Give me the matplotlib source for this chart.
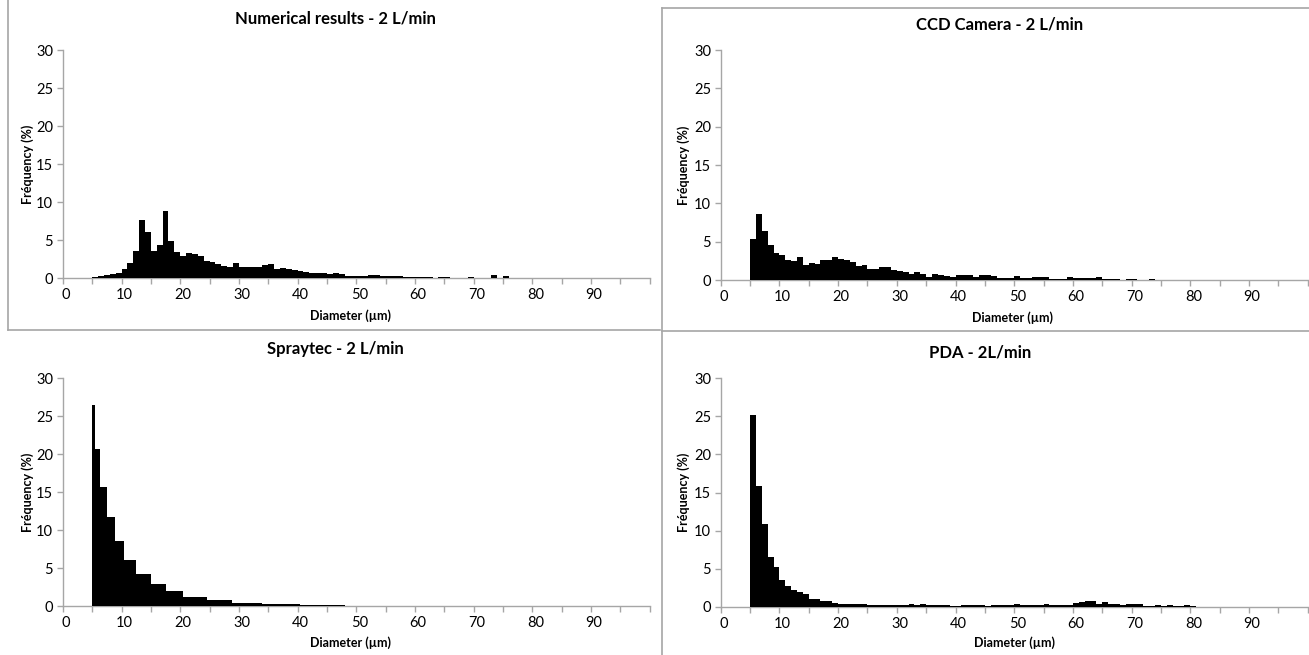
import numpy as np
import matplotlib
matplotlib.use("Agg")
import matplotlib.pyplot as plt
from matplotlib.lines import Line2D
from matplotlib.transforms import ScaledTranslation

plt.rcParams['font.family'] = ['Lato', 'DejaVu Sans']

# ---------------- data ----------------
# 1-µm bins starting at 5 µm (left edges)
num_left = list(range(5, 95))
num_freq = [0.1, 0.3, 0.45, 0.5, 0.6, 1.2, 2.0, 3.6, 7.6, 6.1,
            3.6, 4.4, 8.8, 4.9, 3.4, 2.9, 3.3, 3.1, 2.9, 2.2,
            2.1, 1.9, 1.6, 1.4, 2.0, 1.5, 1.5, 1.4, 1.4, 1.7,
            1.9, 1.2, 1.3, 1.2, 1.0, 0.9, 0.8, 0.7, 0.7, 0.7,
            0.5, 0.6, 0.5, 0.3, 0.3, 0.25, 0.25, 0.35, 0.35, 0.2,
            0.2, 0.25, 0.25, 0.1, 0.1, 0.1, 0.1, 0.1, 0.05, 0.1,
            0.1, 0.05, 0.05, 0.05, 0.1, 0.05, 0.05, 0.05, 0.35, 0.05,
            0.2, 0.05, 0.05, 0.05, 0.05, 0.05, 0.05, 0.05, 0.05, 0.05,
            0.05, 0.05, 0.05, 0.05, 0.05, 0.05, 0.05, 0.05, 0.05, 0.05]

ccd_left = list(range(5, 90))
ccd_freq = [5.4, 8.6, 6.45, 4.6, 3.5, 3.3, 2.6, 2.5, 3.05, 1.9,
            2.2, 2.1, 2.65, 2.65, 3.05, 2.7, 2.55, 2.4, 1.85, 2.0,
            1.5, 1.4, 1.7, 1.7, 1.3, 1.2, 1.1, 0.75, 1.0, 0.75,
            0.45, 0.8, 0.65, 0.5, 0.4, 0.65, 0.65, 0.6, 0.45, 0.6,
            0.7, 0.5, 0.3, 0.25, 0.2, 0.5, 0.25, 0.25, 0.45, 0.4,
            0.4, 0.15, 0.15, 0.1, 0.35, 0.3, 0.25, 0.25, 0.25, 0.35,
            0.1, 0.1, 0.1, 0.05, 0.1, 0.1, 0.05, 0.05, 0.1, 0.05,
            0.05, 0.0, 0.05, 0.0, 0.05, 0.0, 0.0, 0.0, 0.0, 0.05,
            0.0, 0.0, 0.0, 0.05, 0.0]

# Spraytec: variable-width (log-spaced) bins
spr_edges = [5.0, 5.45, 6.4, 7.45, 8.95, 10.45, 12.45, 14.95, 17.5, 20.5,
             24.5, 28.9, 34.0, 40.4, 48.0, 57.0]
spr_freq = [26.4, 20.7, 15.65, 11.7, 8.5, 6.1, 4.15, 2.9, 1.93, 1.23,
            0.79, 0.44, 0.26, 0.13, 0.05]

pda_left = list(range(5, 84))
pda_freq = [25.1, 15.9, 10.9, 6.6, 5.2, 3.6, 2.75, 2.2, 2.0, 1.65,
            1.1, 1.1, 0.8, 0.8, 0.5, 0.4, 0.4, 0.4, 0.35, 0.4,
            0.3, 0.2, 0.25, 0.3, 0.3, 0.3, 0.25, 0.45, 0.2, 0.4,
            0.2, 0.3, 0.3, 0.25, 0.1, 0.15, 0.2, 0.2, 0.2, 0.25,
            0.15, 0.25, 0.2, 0.2, 0.2, 0.4, 0.2, 0.2, 0.2, 0.2,
            0.4, 0.3, 0.3, 0.3, 0.2, 0.55, 0.6, 0.75, 0.75, 0.4,
            0.65, 0.4, 0.4, 0.2, 0.35, 0.4, 0.35, 0.15, 0.15, 0.2,
            0.1, 0.3, 0.1, 0.1, 0.25, 0.08, 0.05, 0.05, 0.05]

titles = ["Numerical results - 2 L/min", "CCD Camera - 2 L/min",
          "Spraytec - 2 L/min", "PDA - 2L/min"]
xlabel = "Diameter (µm)"
ylabel = "Fréquency (%)"
x_ticks = list(range(0, 101, 5))
x_ticklabels = [str(v) if (v % 10 == 0 and v < 100) else "" for v in x_ticks]
y_ticks = list(range(0, 31, 5))

# ---------------- figure ----------------
W, H = 1309, 655
fig = plt.figure(figsize=(W / 100, H / 100), dpi=100)
gray = "#a6a6a6"

def px_axes(x0, x1, ytop, ybot):
    return fig.add_axes([x0 / W, 1 - ybot / H, (x1 - x0) / W, (ybot - ytop) / H])

axes = [px_axes(62.8, 649.8, 50, 278),
        px_axes(720.7, 1307.7, 50, 280),
        px_axes(62.8, 649.8, 378, 606),
        px_axes(720.7, 1307.7, 378, 607)]

axes[0].bar(num_left, num_freq, width=1.0, align='edge', color='black', linewidth=0, zorder=3)
axes[1].bar(ccd_left, ccd_freq, width=1.0, align='edge', color='black', linewidth=0, zorder=3)
axes[2].bar(spr_edges[:-1], spr_freq, width=np.diff(spr_edges), align='edge',
            color='black', linewidth=0, zorder=3)
axes[3].bar(pda_left, pda_freq, width=1.0, align='edge', color='black', linewidth=0, zorder=3)

shift = ScaledTranslation(3 / 100, 0, fig.dpi_scale_trans)
for ax in axes:
    ax.set_xlim(0, 100)
    ax.set_ylim(0, 30)
    ax.set_xticks(x_ticks)
    ax.set_xticklabels(x_ticklabels)
    ax.set_yticks(y_ticks)
    for s in ("top", "right"):
        ax.spines[s].set_visible(False)
    for s in ("left", "bottom"):
        ax.spines[s].set_color(gray)
        ax.spines[s].set_linewidth(1.0)
        ax.spines[s].set_zorder(1)
    ax.tick_params(axis='both', direction='out', length=4, width=1.0, color=gray,
                   labelsize=10.5, labelcolor='black')
    ax.tick_params(axis='x', pad=3)
    ax.tick_params(axis='y', pad=3)
    for lab in ax.get_xticklabels():
        lab.set_transform(lab.get_transform() + shift)
    ax.patch.set_alpha(0)

# titles, axis labels (pixel positions)
title_pos = [(335, 18), (1000, 25), (335, 349), (980, 353)]
xlab_pos = [(350, 316), (1012, 318), (350, 643), (1015, 643)]
ylab_pos = [(28, 164), (684, 165), (28, 492), (684, 492)]
for t, (tx, ty), (lx, ly), (yx, yy) in zip(titles, title_pos, xlab_pos, ylab_pos):
    fig.text(tx / W, 1 - ty / H, t, ha='center', va='center', fontsize=12, fontweight='bold')
    fig.text(lx / W, 1 - ly / H, xlabel, ha='center', va='center', fontsize=9, fontweight='bold')
    fig.text(yx / W, 1 - yy / H, ylabel, ha='center', va='center', fontsize=9,
             fontweight='bold', rotation=90)

# panel frame lines
def fline(x0, y0, x1, y1):
    fig.add_artist(Line2D([x0 / W, x1 / W], [1 - y0 / H, 1 - y1 / H],
                          transform=fig.transFigure, color=gray, linewidth=1.2))

fline(8, 0, 8, 330)
fline(8, 330, 660, 330)
fline(662, 8, 662, 655)
fline(662, 8, 1309, 8)
fline(662, 331, 1309, 331)

fig.savefig("out.png", dpi=100)
